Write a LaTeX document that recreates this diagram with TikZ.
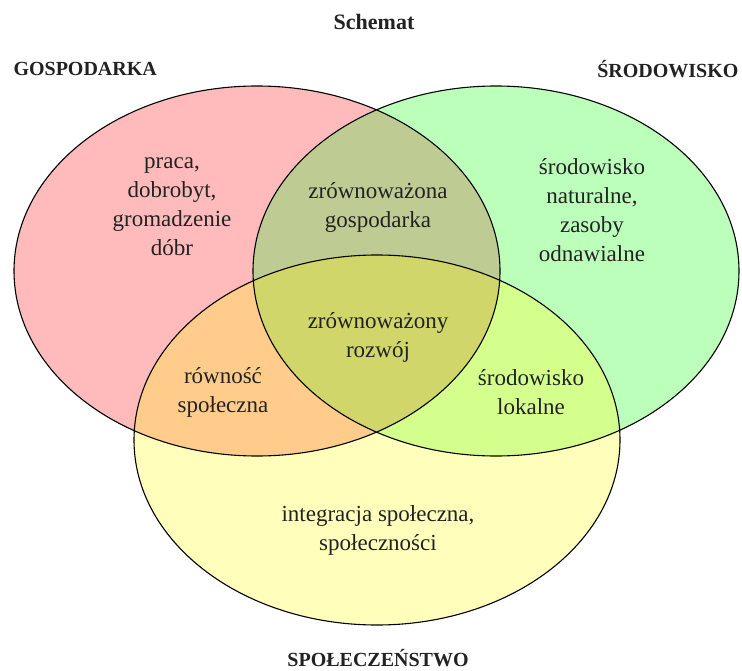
\documentclass[tikz,border=0pt]{standalone}
\usepackage{fontspec}
\setmainfont{Liberation Serif}
\definecolor{gospfill}{HTML}{FFBBBB}
\definecolor{srodfill}{HTML}{BBFFBB}
\definecolor{spolfill}{HTML}{FFFFBB}
\definecolor{gsfill}{HTML}{BECC94}
\definecolor{gpfill}{HTML}{FFCC8C}
\definecolor{spfill}{HTML}{D4FF8C}
\definecolor{allfill}{HTML}{D0D66A}
\definecolor{txt}{HTML}{222222}
\def\gosp{(257,271) ellipse [x radius=243, y radius=185]}
\def\srod{(496,271) ellipse [x radius=243, y radius=185]}
\def\spol{(377,440) ellipse [x radius=243, y radius=185]}
\begin{document}
\begin{tikzpicture}[x=1pt,y=-1pt,
  every node/.style={align=center,text=txt,
    font=\fontsize{23}{29}\selectfont},
  head/.style={font=\fontsize{20}{24}\selectfont\bfseries}]
\useasboundingbox (0,0) rectangle (742,671);
% circles
\fill[gospfill] \gosp;
\fill[srodfill] \srod;
\fill[spolfill] \spol;
\begin{scope}
  \clip \gosp; \fill[gsfill] \srod;
\end{scope}
\begin{scope}
  \clip \gosp; \fill[gpfill] \spol;
\end{scope}
\begin{scope}
  \clip \srod; \fill[spfill] \spol;
\end{scope}
\begin{scope}
  \clip \gosp; \clip \srod; \fill[allfill] \spol;
\end{scope}
\draw[line width=1.1pt] \gosp \srod \spol;
% titles
\node[head,font=\fontsize{22}{26}\selectfont\bfseries] (title) at (374,22) {Schemat};
\node[head,anchor=west] (gosptitle) at (10,69) {GOSPODARKA};
\node[head,anchor=east] (srodtitle) at (742,69) {ŚRODOWISKO};
\node[head] (spoltitle) at (378,658) {SPOŁECZEŃSTWO};
% labels
\node (gosp) at (172,207) {praca,\\dobrobyt,\\gromadzenie\\dóbr};
\node (srod) at (592,210) {środowisko\\naturalne,\\zasoby\\odnawialne};
\node (gs) at (378,207) {zrównoważona\\gospodarka};
\node (all) at (378,337) {zrównoważony\\rozwój};
\node (gp) at (223,392) {równość\\społeczna};
\node (sp) at (531,392) {środowisko\\lokalne};
\node (spol) at (378,530) {integracja społeczna,\\społeczności};
\end{tikzpicture}
\end{document}
